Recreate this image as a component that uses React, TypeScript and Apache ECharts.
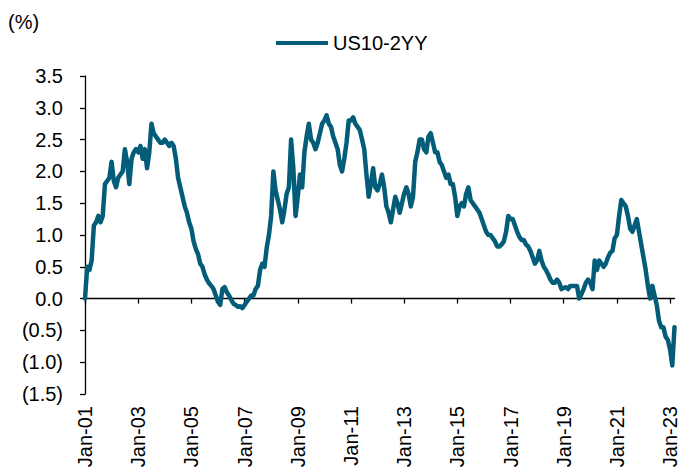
import React, { useEffect, useRef } from "react";
import * as echarts from "echarts";

const FONT = '"Liberation Sans", Arial, sans-serif';
const COLOR = "#035d79";
const SERIES_NAME = "US10-2YY";

const monthNames = ["Jan", "Feb", "Mar", "Apr", "May", "Jun", "Jul", "Aug", "Sep", "Oct", "Nov", "Dec"];
const yearLabels = ["01", "02", "03", "04", "05", "06", "07", "08", "09", "10", "11", "12", "13", "14", "15", "16", "17", "18", "19", "20", "21", "22", "23"];

// Monthly US 10y-2y spread (%), Jan-01 .. Mar-23
const spread = [
  // 2001
  0.0, 0.5, 0.45, 0.6, 1.15, 1.2, 1.3, 1.2, 1.3, 1.8, 1.85, 1.9,
  // 2002
  2.15, 1.85, 1.75, 1.9, 1.95, 2.0, 2.35, 2.15, 1.8, 2.2, 2.3, 2.35,
  // 2003
  2.3, 2.4, 2.2, 2.35, 2.05, 2.3, 2.75, 2.6, 2.55, 2.5, 2.45, 2.45,
  // 2004
  2.5, 2.45, 2.4, 2.45, 2.4, 2.2, 1.9, 1.75, 1.6, 1.45, 1.35, 1.2,
  // 2005
  1.1, 0.9, 0.78, 0.7, 0.55, 0.5, 0.38, 0.3, 0.24, 0.2, 0.15, 0.05,
  // 2006
  -0.05, -0.1, 0.15, 0.18, 0.1, 0.05, -0.02, -0.08, -0.1, -0.13, -0.12, -0.15,
  // 2007
  -0.1, -0.05, 0.0, 0.05, 0.05, 0.15, 0.2, 0.45, 0.55, 0.5, 0.8, 1.0,
  // 2008
  1.3, 2.0, 1.7, 1.55, 1.4, 1.2, 1.4, 1.65, 1.75, 2.5, 2.05, 1.3,
  // 2009
  1.6, 1.95, 1.75, 2.3, 2.55, 2.75, 2.5, 2.45, 2.35, 2.45, 2.6, 2.75,
  // 2010
  2.8, 2.88, 2.75, 2.7, 2.55, 2.45, 2.35, 2.1, 2.0, 2.2, 2.45, 2.8,
  // 2011
  2.8, 2.85, 2.75, 2.7, 2.65, 2.5, 2.35, 1.95, 1.6, 1.8, 2.05, 1.75,
  // 2012
  1.7, 1.8, 1.95, 1.75, 1.45, 1.35, 1.2, 1.4, 1.6, 1.5, 1.35, 1.5,
  // 2013
  1.65, 1.75, 1.65, 1.45, 1.6, 2.15, 2.3, 2.5, 2.5, 2.35, 2.3, 2.55,
  // 2014
  2.6, 2.45, 2.3, 2.3, 2.15, 2.1, 2.0, 1.9, 1.95, 1.8, 1.8, 1.6,
  // 2015
  1.3, 1.45, 1.5, 1.45, 1.65, 1.75, 1.55, 1.5, 1.45, 1.4, 1.35, 1.25,
  // 2016
  1.15, 1.05, 1.0, 1.0, 0.95, 0.9, 0.82, 0.82, 0.85, 0.9, 1.05, 1.3,
  // 2017
  1.25, 1.25, 1.15, 1.05, 0.97, 0.92, 0.92, 0.85, 0.82, 0.75, 0.65, 0.55,
  // 2018
  0.6, 0.75, 0.6, 0.5, 0.45, 0.38, 0.3, 0.25, 0.25, 0.3, 0.25, 0.15,
  // 2019
  0.17, 0.18, 0.15, 0.2, 0.2, 0.2, 0.2, 0.0, 0.07, 0.15, 0.25, 0.3,
  // 2020
  0.25, 0.15, 0.6, 0.45, 0.6, 0.55, 0.5, 0.55, 0.65, 0.72, 0.75, 0.95,
  // 2021
  1.0, 1.3, 1.55, 1.5, 1.45, 1.3, 1.1, 1.05, 1.15, 1.25, 1.05, 0.85,
  // 2022
  0.65, 0.45, 0.2, 0.0, 0.2, 0.05, -0.1, -0.35, -0.45, -0.45, -0.6, -0.65,
  // 2023
  -0.8, -1.05, -0.45,
];

const categories: string[] = [];
yearLabels.forEach((y) => monthNames.forEach((m) => categories.push(`${m}-${y}`)));
categories.length = spread.length;

const fmtY = (v: number) => (v < 0 ? `(${Math.abs(v).toFixed(1)})` : v.toFixed(1));

export default function App() {
  const ref = useRef<HTMLDivElement>(null);
  useEffect(() => {
    document.body.style.margin = "0";
    const chart = echarts.init(ref.current!, null, { renderer: "svg" });
    chart.setOption({
      animation: false,
      textStyle: { fontFamily: FONT },
      graphic: [
        {
          type: "text",
          left: 8,
          top: 12,
          style: { text: "(%)", fontSize: 20, fill: "#000", fontFamily: FONT },
        },
      ],
      legend: {
        data: [SERIES_NAME],
        left: 271,
        top: 28,
        icon: "rect",
        itemWidth: 52,
        itemHeight: 4,
        textStyle: { fontSize: 20, color: "#000", fontFamily: FONT },
      },
      grid: { left: 85, right: 8.5, top: 76, bottom: 82, containLabel: false },
      xAxis: [
        {
          type: "category",
          data: categories,
          boundaryGap: false,
          axisLine: { onZero: true, lineStyle: { color: "#000", width: 1.3 } },
          axisTick: { interval: 23, length: 5, lineStyle: { color: "#000", width: 1.3 } },
          axisLabel: { show: false },
          splitLine: { show: false },
        },
        {
          type: "category",
          data: categories,
          boundaryGap: false,
          position: "bottom",
          axisLine: { show: false, onZero: false },
          axisTick: { show: false },
          splitLine: { show: false },
          axisLabel: { interval: 23, rotate: 90, margin: 12, fontSize: 20, color: "#000", fontFamily: FONT },
        },
      ],
      yAxis: {
        type: "value",
        min: -1.5,
        max: 3.5,
        interval: 0.5,
        axisLine: { show: true, lineStyle: { color: "#000", width: 1.3 } },
        axisTick: { show: true, length: 5, lineStyle: { color: "#000", width: 1.3 } },
        splitLine: { show: false },
        axisLabel: { formatter: fmtY, fontSize: 20, margin: 22, color: "#000", fontFamily: FONT },
      },
      series: [
        {
          name: SERIES_NAME,
          type: "line",
          xAxisIndex: 0,
          data: spread,
          symbol: "none",
          showSymbol: false,
          lineStyle: { color: COLOR, width: 4.5, join: "round", cap: "round" },
          itemStyle: { color: COLOR },
        },
      ],
    });
    return () => chart.dispose();
  }, []);
  return <div ref={ref} style={{ width: 683, height: 476 }} />;
}
